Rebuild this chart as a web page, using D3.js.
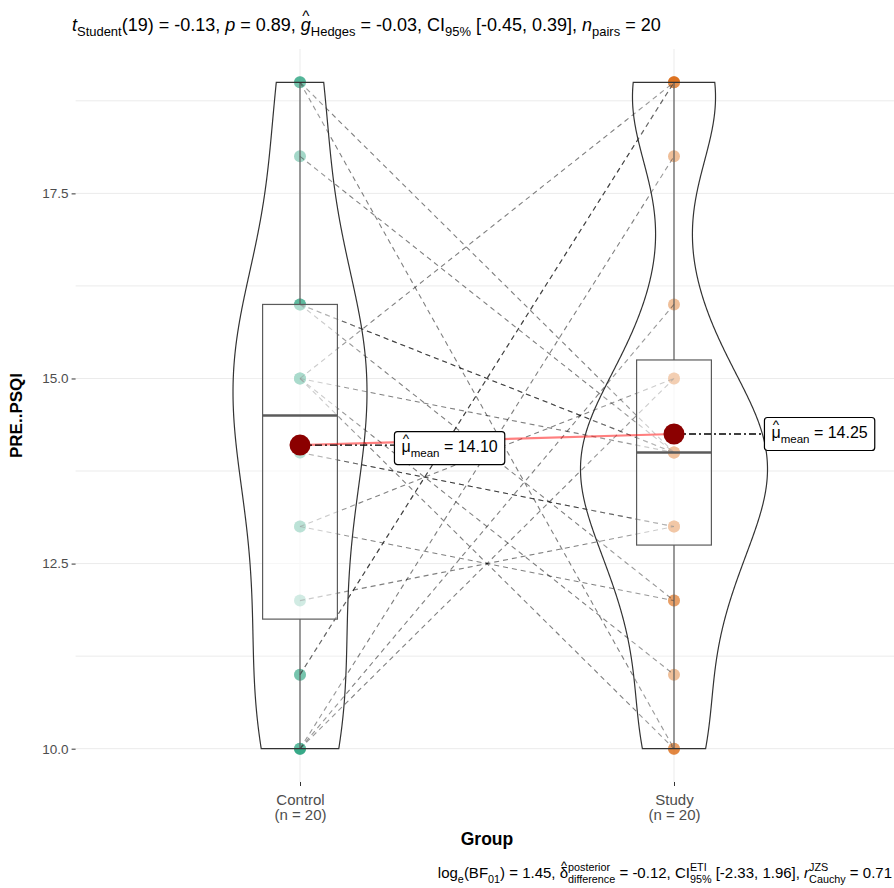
<!DOCTYPE html>
<html>
<head>
<meta charset="utf-8">
<script src="https://cdn.jsdelivr.net/npm/d3@7"></script>
<style>
  body { margin: 0; background: #fff; }
  text { font-family: "Liberation Sans", Arial, sans-serif; }
</style>
</head>
<body>
<svg width="894" height="888"></svg>
<script>
// data: one entry per subject, same order in both arrays (paired)
const groups = ["Control", "Study"];
const controlScores = [11, 11, 16, 16, 14, 14, 12, 13, 13, 15, 15, 15, 15, 16, 18, 19, 19, 10, 10, 10];
const studyScores   = [19, 19, 14, 14, 13, 13, 13, 15, 12, 19, 14, 11, 10, 12, 14, 14, 10, 15, 16, 18];
const groupColors = ["#1B9E77", "#D95F02"];
const yTicks = [10, 12.5, 15, 17.5];
const yMinorTicks = [11.25, 13.75, 16.25, 18.75];

const titleParts = [
  {t: "t", it: true}, {t: "Student", sub: true}, {t: "(19) = -0.13, "},
  {t: "p", it: true}, {t: " = 0.89, "},
  {t: "g", it: true, hat: true}, {t: "Hedges", sub: true}, {t: " = -0.03, CI"},
  {t: "95%", sub: true}, {t: " [-0.45, 0.39], "},
  {t: "n", it: true}, {t: "pairs", sub: true}, {t: " = 20"}
];
const captionParts = [
  {t: "log"}, {t: "e", sub: true}, {t: "(BF"}, {t: "01", sub: true}, {t: ") = 1.45, "},
  {t: "δ", hat: true}, {t: "posterior", sup: true, open: true}, {t: "difference", sub: true, close: true},
  {t: " = -0.12, CI"}, {t: "ETI", sup: true, open: true}, {t: "95%", sub: true, close: true},
  {t: " [-2.33, 1.96], "}, {t: "r", it: true}, {t: "JZS", sup: true, open: true},
  {t: "Cauchy", sub: true, close: true}, {t: " = 0.71"}
];

const svg = d3.select("svg");
svg.append("rect").attr("width", 894).attr("height", 888).attr("fill", "#fff");

const panel = {left: 75.6, right: 898.4, top: 49, bottom: 782};

const x = d3.scalePoint()
    .domain(groups)
    .range([panel.left, panel.right])
    .padding(0.6);
const step = x.step();

const y = d3.scaleLinear()
    .domain([9.55, 19.45])
    .range([panel.bottom, panel.top]);

const series = [controlScores, studyScores];

// small helper for text with sub/superscripts and hats
function richText(parent, parts, px, py, size, anchor) {
  const g = parent.append("g");
  let cx = 0, openX = 0, openW = 0;
  parts.forEach(p => {
    const small = p.sub || p.sup;
    const fs = small ? size * 0.72 : size;
    const dy = p.sub ? size * 0.3 : p.sup ? -size * 0.5 : 0;
    const t = g.append("text")
        .attr("x", p.close ? openX : cx)
        .attr("y", dy)
        .attr("font-size", fs)
        .attr("font-style", p.it ? "italic" : null)
        .style("white-space", "pre")
        .text(p.t);
    const w = t.node().getComputedTextLength();
    if (p.hat) {
      g.append("text")
          .attr("x", cx + w / 2)
          .attr("y", -size * 0.55)
          .attr("text-anchor", "middle")
          .attr("font-size", size * 0.85)
          .text("^");
    }
    if (p.open) { openX = cx; openW = w; }
    else if (p.close) { cx = openX + Math.max(openW, w); }
    else cx += w;
  });
  const x0 = anchor === "end" ? px - cx : anchor === "middle" ? px - cx / 2 : px;
  g.attr("transform", `translate(${x0},${py})`);
  return {g: g, width: cx};
}

// grid
const grid = svg.append("g").attr("stroke", "#EBEBEB").attr("stroke-width", 1);
grid.selectAll(".ymaj")
  .data(yTicks.concat(yMinorTicks))
  .enter().append("line")
  .attr("x1", panel.left).attr("x2", 894)
  .attr("y1", d => y(d)).attr("y2", d => y(d));
grid.selectAll(".xmaj")
  .data(groups)
  .enter().append("line")
  .attr("x1", d => x(d)).attr("x2", d => x(d))
  .attr("y1", panel.top).attr("y2", panel.bottom);

// axes
const yAxis = svg.append("g")
    .attr("transform", `translate(${panel.left},0)`)
    .call(d3.axisLeft(y).tickValues(yTicks).tickFormat(d3.format(".1f")).tickSize(4).tickPadding(3));
yAxis.select(".domain").remove();
yAxis.selectAll(".tick line").attr("stroke", "#333");
yAxis.selectAll(".tick text").attr("fill", "#4D4D4D").attr("font-size", 13.5)
    .attr("font-family", "Liberation Sans, Arial, sans-serif");

const xAxis = svg.append("g")
    .attr("transform", `translate(0,${panel.bottom})`)
    .call(d3.axisBottom(x).tickSize(4).tickPadding(3));
xAxis.select(".domain").remove();
xAxis.selectAll(".tick line").attr("stroke", "#333");
xAxis.selectAll(".tick text")
    .attr("fill", "#4D4D4D").attr("font-size", 15)
    .attr("font-family", "Liberation Sans, Arial, sans-serif")
    .each(function(d, i) {
      const t = d3.select(this).text(null).attr("y", 0).attr("dy", null);
      t.append("tspan").attr("x", 0).attr("y", 23).text(d);
      t.append("tspan").attr("x", 0).attr("y", 38).text(`(n = ${series[i].length})`);
    });

svg.append("text")
    .attr("transform", `translate(22,${(panel.top + panel.bottom) / 2}) rotate(-90)`)
    .attr("text-anchor", "middle")
    .attr("font-size", 17).attr("font-weight", "bold")
    .text("PRE..PSQI");
svg.append("text")
    .attr("x", (panel.left + panel.right) / 2).attr("y", 845)
    .attr("text-anchor", "middle")
    .attr("font-size", 17.5).attr("font-weight", "bold")
    .text("Group");

// points
const pts = svg.append("g");
series.forEach((vals, gi) => {
  pts.selectAll(null)
    .data(vals)
    .enter().append("circle")
    .attr("cx", x(groups[gi]))
    .attr("cy", d => y(d))
    .attr("r", 6)
    .attr("fill", groupColors[gi])
    .attr("fill-opacity", 0.5);
});

// paired lines
svg.append("g").selectAll("line")
  .data(d3.range(controlScores.length))
  .enter().append("line")
  .attr("x1", x(groups[0])).attr("y1", i => y(controlScores[i]))
  .attr("x2", x(groups[1])).attr("y2", i => y(studyScores[i]))
  .attr("stroke", "#000").attr("stroke-opacity", 0.5)
  .attr("stroke-width", 1.1)
  .attr("stroke-dasharray", "5,4");

// boxplots
series.forEach((vals, gi) => {
  const s = vals.slice().sort(d3.ascending);
  const q1 = d3.quantile(s, 0.25), med = d3.quantile(s, 0.5), q3 = d3.quantile(s, 0.75);
  const iqr = q3 - q1;
  const lo = d3.min(s.filter(v => v >= q1 - 1.5 * iqr));
  const hi = d3.max(s.filter(v => v <= q3 + 1.5 * iqr));
  const cx = x(groups[gi]), hw = step * 0.1;
  const g = svg.append("g").attr("stroke", "#333").attr("stroke-width", 1.2);
  g.append("line").attr("x1", cx).attr("x2", cx).attr("y1", y(q3)).attr("y2", y(hi));
  g.append("line").attr("x1", cx).attr("x2", cx).attr("y1", y(q1)).attr("y2", y(lo));
  g.append("rect")
    .attr("x", cx - hw).attr("width", 2 * hw)
    .attr("y", y(q3)).attr("height", y(q1) - y(q3))
    .attr("fill", "#fff").attr("fill-opacity", 0.5);
  g.append("line").attr("x1", cx - hw).attr("x2", cx + hw)
    .attr("y1", y(med)).attr("y2", y(med)).attr("stroke-width", 2.4);
});

// violins (gaussian kde, nrd0 bandwidth, trimmed, scaled by area)
function bwNrd0(v) {
  const s = v.slice().sort(d3.ascending);
  const sd = d3.deviation(s);
  const iqr = d3.quantile(s, 0.75) - d3.quantile(s, 0.25);
  return 0.9 * Math.min(sd, iqr / 1.34) * Math.pow(s.length, -0.2);
}
const dens = series.map(vals => {
  const bw = bwNrd0(vals);
  const lo = d3.min(vals), hi = d3.max(vals);
  return d3.range(512).map(k => {
    const yy = lo + (hi - lo) * k / 511;
    const d = d3.mean(vals, v => Math.exp(-0.5 * ((yy - v) / bw) ** 2)) / (bw * Math.sqrt(2 * Math.PI));
    return {y: yy, d: d};
  });
});
const maxDens = d3.max(dens, arr => d3.max(arr, p => p.d));
dens.forEach((arr, gi) => {
  const cx = x(groups[gi]);
  const w = p => (p.d / maxDens) * step * 0.25;
  const outline = arr.map(p => [cx + w(p), y(p.y)])
    .concat(arr.slice().reverse().map(p => [cx - w(p), y(p.y)]));
  svg.append("path")
    .attr("d", d3.line()(outline) + "Z")
    .attr("fill", "#fff").attr("fill-opacity", 0.2)
    .attr("stroke", "#333").attr("stroke-width", 1.2);
});

// means
const means = series.map(v => d3.mean(v));
svg.append("line")
  .attr("x1", x(groups[0])).attr("y1", y(means[0]))
  .attr("x2", x(groups[1])).attr("y2", y(means[1]))
  .attr("stroke", "red").attr("stroke-opacity", 0.5).attr("stroke-width", 2.2);

means.forEach((m, gi) => {
  const cx = x(groups[gi]), cy = y(m);
  const lbl = richText(svg, [{t: "μ", hat: true}, {t: "mean", sub: true}, {t: " = " + d3.format(".2f")(m)}],
      0, 0, 16, "start");
  const bw = lbl.width + 14, bh = 33;
  const bx = cx + 0.4 * step - bw / 2 - (gi === 1 ? 4 : 0);
  const by = cy - bh / 2 + (gi === 0 ? 3 : 0);
  svg.append("line")
    .attr("x1", cx).attr("y1", cy).attr("x2", bx).attr("y2", cy)
    .attr("stroke", "#000").attr("stroke-width", 1.3)
    .attr("stroke-dasharray", "7,3,2,3");
  svg.append("circle").attr("cx", cx).attr("cy", cy).attr("r", 10.5).attr("fill", "darkred");
  lbl.g.raise();
  lbl.g.insert("rect", ":first-child")
    .attr("x", -7).attr("y", -bh / 2 - 4).attr("width", bw).attr("height", bh)
    .attr("rx", 3).attr("fill", "#fff").attr("stroke", "#000").attr("stroke-width", 1.2);
  lbl.g.attr("transform", `translate(${bx + 7},${by + bh / 2 + 4})`);
});

// subtitle and caption
richText(svg, titleParts, 72, 31, 18, "start");
richText(svg, captionParts, 892, 878, 15, "end");
</script>
</body>
</html>
